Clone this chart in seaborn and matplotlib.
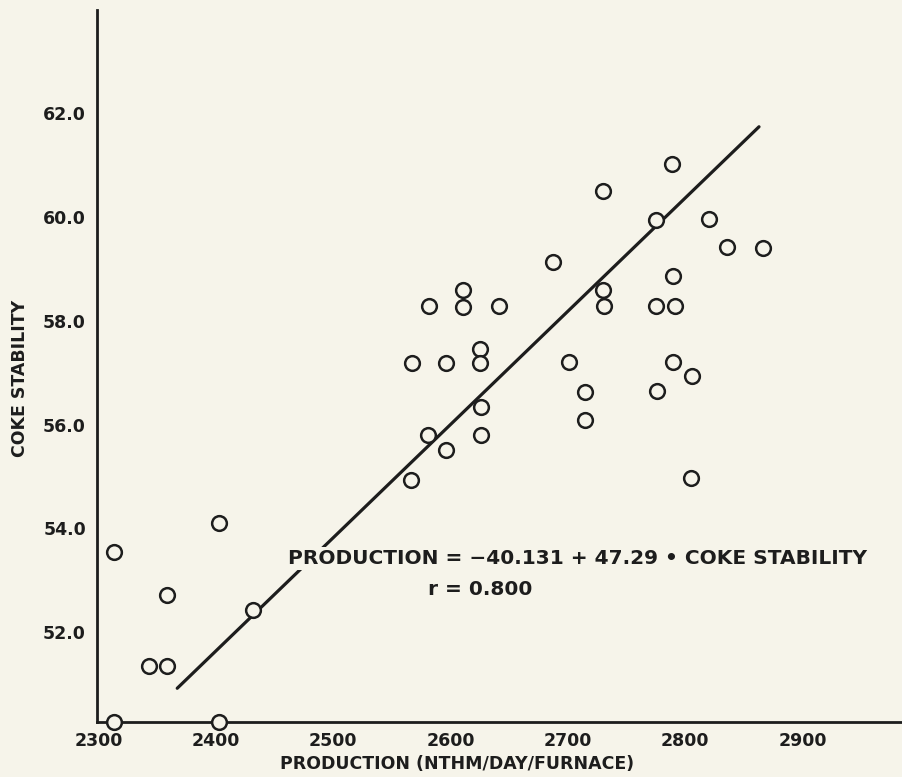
import matplotlib
matplotlib.use("Agg")
import matplotlib.pyplot as plt
import seaborn as sns
import numpy as np

# ---- data ----
production = [2313, 2313, 2403, 2403, 2358, 2343, 2358, 2432,
              2789, 2730, 2775, 2820, 2836, 2866, 2687, 2790,
              2611, 2611, 2582, 2641, 2730, 2731, 2775, 2791,
              2567, 2596, 2625, 2625, 2701, 2790, 2806, 2715,
              2776, 2626, 2715, 2581, 2626, 2596, 2566, 2805]
stability = [53.55, 50.27, 54.11, 50.27, 52.71, 51.34, 51.34, 52.43,
             61.03, 60.50, 59.95, 59.97, 59.43, 59.41, 59.13, 58.87,
             58.59, 58.27, 58.29, 58.29, 58.59, 58.29, 58.29, 58.29,
             57.18, 57.18, 57.45, 57.18, 57.20, 57.21, 56.93, 56.63,
             56.65, 56.34, 56.09, 55.80, 55.80, 55.51, 54.94, 54.98]
fit_x = [2367, 2863]
fit_y = [50.92, 61.74]

x_ticks = [2300, 2400, 2500, 2600, 2700, 2800, 2900]
y_major = [52, 54, 56, 58, 60, 62]
y_minor = [51, 53, 55, 57, 59, 61]

equation = "PRODUCTION = \u221240.131 + 47.29 \u2022 COKE STABILITY"
r_text = "r = 0.800"

# ---- style ----
bg = "#f6f4ea"
ink = "#1d1d1d"
sns.set_style("white")
plt.rcParams["font.family"] = ["DejaVu Sans"]

fig = plt.figure(figsize=(9.02, 7.77), dpi=100, facecolor=bg)
ax = fig.add_axes([97 / 902, 55 / 777, 805 / 902, 712 / 777])
ax.set_facecolor(bg)

sns.lineplot(x=fit_x, y=fit_y, ax=ax, color=ink, linewidth=2.3, zorder=2)
sns.scatterplot(x=production, y=stability, ax=ax, marker="o", s=112,
                facecolor=bg, edgecolor=ink, linewidth=1.8,
                zorder=3, clip_on=False)

ax.set_xlim(2298.6, 2984.9)
ax.set_ylim(50.27, 63.99)

for side in ["top", "right"]:
    ax.spines[side].set_visible(False)
for side in ["left", "bottom"]:
    ax.spines[side].set_linewidth(2.0)
    ax.spines[side].set_color(ink)

ax.set_xticks(x_ticks)
ax.set_xticklabels([str(v) for v in x_ticks])
ax.set_yticks(y_major)
ax.set_yticklabels([f"{v:.1f}" for v in y_major])
ax.set_yticks(y_minor, minor=True)

ax.tick_params(axis="both", which="major", direction="in", length=13,
               width=1.8, color=ink, labelcolor=ink, pad=8)
ax.tick_params(axis="y", which="minor", direction="in", length=9.5,
               width=1.8, color=ink)
ax.tick_params(axis="x", which="major", pad=7)
for lab in ax.get_xticklabels() + ax.get_yticklabels():
    lab.set_fontweight("bold")
    lab.set_fontsize(12.5)

ax.set_xlabel("PRODUCTION (NTHM/DAY/FURNACE)", fontsize=12.5,
              fontweight="bold", color=ink)
ax.set_ylabel("COKE STABILITY", fontsize=12.5, fontweight="bold", color=ink)
ax.xaxis.set_label_coords(0.447, -0.047)
ax.yaxis.set_label_coords(-0.085, 0.483)

ax.text(0.237, 0.230, equation, transform=ax.transAxes, fontsize=14.5,
        fontweight="bold", color=ink, ha="left", va="center", zorder=4,
        bbox=dict(facecolor=bg, edgecolor="none", pad=1.5))
ax.text(0.476, 0.186, r_text, transform=ax.transAxes, fontsize=14.5,
        fontweight="bold", color=ink, ha="center", va="center", zorder=4)

fig.savefig("out.png", dpi=100, facecolor=bg)
